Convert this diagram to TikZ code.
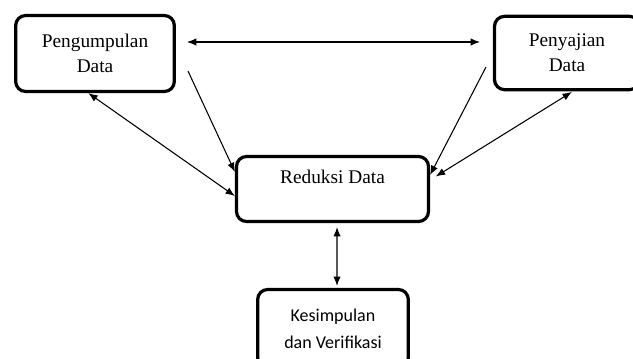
\documentclass[tikz,border=0pt]{standalone}
\usepackage{fontspec}
\setmainfont{Liberation Serif}
\newfontfamily\kesfont{Carlito}
\usetikzlibrary{arrows.meta}

\begin{document}
\begin{tikzpicture}[x=0.75pt,y=-0.75pt,
    box/.style={draw, line width=2.4pt, rounded corners=7.5pt, align=center, inner sep=0pt,
        font=\fontsize{14.5}{18.75}\selectfont},
    link/.style={line width=0.8pt, -{Latex[length=7pt,width=5.5pt]}},
    both/.style={line width=0.8pt, {Latex[length=7pt,width=5.5pt]}-{Latex[length=7pt,width=5.5pt]}}]
    \useasboundingbox (0,0) rectangle (633,358);
    % boxes
    \node[box, minimum width=119pt, minimum height=57pt] (pd) at (95,53.5) {Pengumpulan\\Data};
    \node[box, minimum width=108.75pt, minimum height=55pt] (pj) at (567,53) {Penyajian\\Data};
    \node[box, minimum width=144pt, minimum height=48.75pt] (rd) at (332.5,189) {Reduksi Data\\~};
    \node[box, minimum width=113pt, minimum height=58.5pt,
        font=\kesfont\fontsize{13.5}{20.25}\selectfont] (ks) at (333,328.5) {Kesimpulan\\dan Verifikasi};
    % free ends
    \coordinate (topL) at (187,42);
    \coordinate (topR) at (480,42);
    \coordinate (pdOut) at (188,71);
    \coordinate (pjOut) at (486,67);
    % connectors
    \draw[both] (topL) -- (topR);
    \draw[link] (pdOut) -- ([yshift=12.75pt]rd.west);
    \draw[both] ([xshift=-5pt]pd.south) -- ([yshift=-5.25pt]rd.west);
    \draw[link] (pjOut) -- ([yshift=10.5pt]rd.east);
    \draw[both, shorten <=1pt, shorten >=5pt] ([xshift=4.5pt]pj.south) -- ([yshift=6.75pt]rd.east);
    \draw[both, shorten <=3pt, shorten >=1.5pt] ([xshift=3.4pt]rd.south) -- ([xshift=3pt]ks.north);
\end{tikzpicture}
\end{document}
